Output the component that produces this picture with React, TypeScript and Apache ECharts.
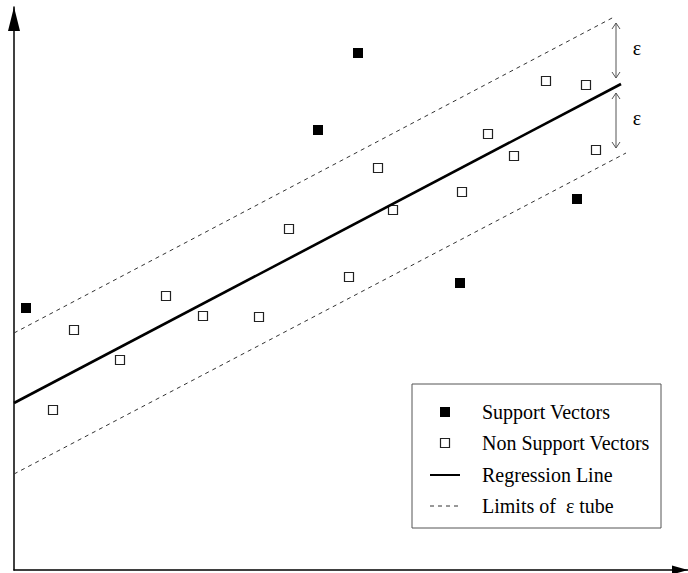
import React, { useEffect, useRef } from "react";
import * as echarts from "echarts";

// Data coordinates: x grows to the right, y grows upward from the x axis.
const supportVectors: number[][] = [
  [12, 262],
  [344, 517],
  [304, 440],
  [446, 287],
  [563, 371],
];

const nonSupportVectors: number[][] = [
  [39, 160],
  [60, 240],
  [106, 210],
  [152, 274],
  [189, 254],
  [245, 253],
  [275, 341],
  [335, 293],
  [364, 402],
  [379, 360],
  [448, 378],
  [474, 436],
  [500, 414],
  [532, 489],
  [572, 485],
  [582, 420],
];

const regressionLine: number[][] = [
  [0, 167],
  [607, 486],
];
const upperTube: number[][] = [
  [0, 237],
  [600, 553],
];
const lowerTube: number[][] = [
  [0, 96],
  [612, 417],
];

// [x, yTop, yBottom] for the epsilon double arrows
const epsilonArrows: number[][] = [
  [602, 547, 492],
  [602, 477, 422],
];
const epsilonLabels: number[][] = [
  [623, 522],
  [623, 452],
];

const legendLabels = [
  "Support Vectors",
  "Non Support Vectors",
  "Regression Line",
  "Limits of  \u03b5 tube",
];

const SERIF = "'Liberation Serif', 'Times New Roman', serif";

export default function App() {
  const ref = useRef<HTMLDivElement>(null);

  useEffect(() => {
    if (!ref.current) return;
    const chart = echarts.init(ref.current, null, { renderer: "svg" });

    const legendX = 412;
    const legendY = 384;
    const rowY = [412, 443, 475, 506];

    chart.setOption({
      animation: false,
      backgroundColor: "#ffffff",
      grid: { left: 14, right: 0, top: 7, bottom: 3 },
      xAxis: {
        type: "value",
        min: 0,
        max: 674,
        axisLine: {
          show: true,
          onZero: false,
          symbol: ["none", "triangle"],
          symbolSize: [9, 16],
          symbolOffset: [0, -8],
          lineStyle: { color: "#000", width: 1.5 },
        },
        axisTick: { show: false },
        axisLabel: { show: false },
        splitLine: { show: false },
      },
      yAxis: {
        type: "value",
        min: 0,
        max: 563,
        axisLine: {
          show: true,
          onZero: false,
          symbol: ["none", "triangle"],
          symbolSize: [12, 24],
          symbolOffset: [0, -12],
          lineStyle: { color: "#000", width: 1.5 },
        },
        axisTick: { show: false },
        axisLabel: { show: false },
        splitLine: { show: false },
      },
      series: [
        {
          name: "Limits upper",
          type: "line",
          data: upperTube,
          symbol: "none",
          lineStyle: { color: "#333", width: 1, type: [4, 4] },
          silent: true,
        },
        {
          name: "Limits lower",
          type: "line",
          data: lowerTube,
          symbol: "none",
          lineStyle: { color: "#333", width: 1, type: [4, 4] },
          silent: true,
        },
        {
          name: "Regression Line",
          type: "line",
          data: regressionLine,
          symbol: "none",
          lineStyle: { color: "#000", width: 2.6 },
          silent: true,
        },
        {
          name: "Non Support Vectors",
          type: "scatter",
          data: nonSupportVectors,
          symbol: "rect",
          symbolSize: 9,
          itemStyle: { color: "#fff", borderColor: "#222", borderWidth: 1.2, opacity: 1 },
          silent: true,
        },
        {
          name: "Support Vectors",
          type: "scatter",
          data: supportVectors,
          symbol: "rect",
          symbolSize: 10,
          itemStyle: { color: "#000", opacity: 1 },
          silent: true,
        },
        {
          name: "epsilon arrows",
          type: "custom",
          data: epsilonArrows,
          silent: true,
          renderItem: (params: any, api: any) => {
            const top = api.coord([api.value(0), api.value(1)]);
            const bot = api.coord([api.value(0), api.value(2)]);
            const s = { stroke: "#555", lineWidth: 1, fill: "none" };
            return {
              type: "group",
              children: [
                { type: "line", shape: { x1: top[0], y1: top[1], x2: bot[0], y2: bot[1] }, style: s },
                {
                  type: "polyline",
                  shape: { points: [[top[0] - 4, top[1] + 6], [top[0], top[1]], [top[0] + 4, top[1] + 6]] },
                  style: s,
                },
                {
                  type: "polyline",
                  shape: { points: [[bot[0] - 4, bot[1] - 6], [bot[0], bot[1]], [bot[0] + 4, bot[1] - 6]] },
                  style: s,
                },
              ],
            };
          },
        },
        {
          name: "epsilon labels",
          type: "custom",
          data: epsilonLabels,
          silent: true,
          renderItem: (params: any, api: any) => {
            const p = api.coord([api.value(0), api.value(1)]);
            return {
              type: "text",
              x: p[0],
              y: p[1],
              style: {
                text: "\u03b5",
                fontFamily: SERIF,
                fontSize: 20,
                fill: "#000",
                align: "center",
                verticalAlign: "middle",
              },
            };
          },
        },
      ],
      graphic: [
        {
          type: "rect",
          shape: { x: legendX, y: legendY, width: 249, height: 144 },
          style: { fill: "#fff", stroke: "#555", lineWidth: 1 },
          z: 100,
        },
        {
          type: "rect",
          shape: { x: 440, y: rowY[0] - 5, width: 10, height: 10 },
          style: { fill: "#000" },
          z: 101,
        },
        {
          type: "rect",
          shape: { x: 440.5, y: rowY[1] - 4.5, width: 9, height: 9 },
          style: { fill: "#fff", stroke: "#222", lineWidth: 1.2 },
          z: 101,
        },
        {
          type: "line",
          shape: { x1: 430, y1: rowY[2], x2: 460, y2: rowY[2] },
          style: { stroke: "#000", lineWidth: 2 },
          z: 101,
        },
        {
          type: "line",
          shape: { x1: 430, y1: rowY[3], x2: 460, y2: rowY[3] },
          style: { stroke: "#333", lineWidth: 1, lineDash: [4, 4] },
          z: 101,
        },
        ...legendLabels.map((t, i) => ({
          type: "text",
          x: 482,
          y: rowY[i],
          z: 101,
          style: {
            text: t,
            fontFamily: SERIF,
            fontSize: 20,
            fill: "#000",
            align: "left",
            verticalAlign: "middle",
          },
        })),
      ],
    });

    return () => chart.dispose();
  }, []);

  return (
    <div
      ref={ref}
      style={{ position: "absolute", left: 0, top: 0, width: 688, height: 573 }}
    />
  );
}
